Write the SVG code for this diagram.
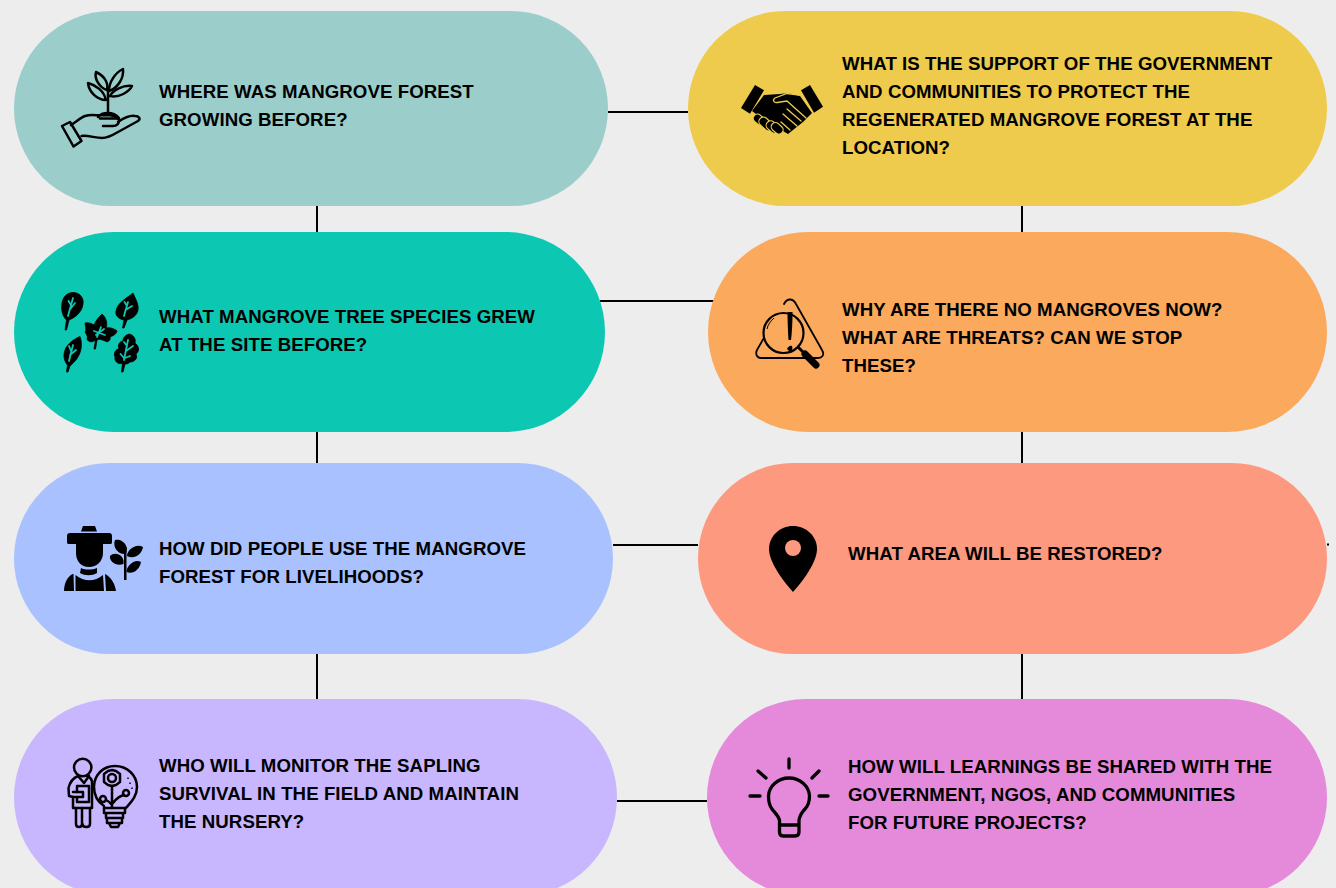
<svg xmlns="http://www.w3.org/2000/svg" width="1336" height="888" viewBox="0 0 1336 888">
<style>
.t{font-family:"Liberation Sans",Arial,sans-serif;font-weight:700;font-size:18.670px;letter-spacing:.07px;fill:#000}
.c{stroke:#000;stroke-width:2;fill:none}
.o{fill:none;stroke:#000;stroke-width:2.500;stroke-linecap:round;stroke-linejoin:round}
.o3{fill:none;stroke:#000;stroke-width:3.300;stroke-linecap:round;stroke-linejoin:round}
</style>
<rect width="1336" height="888" fill="#ededed"/>
<g id="connectors">
<path class="c" d="M608 112H688M317 206V232M600 301H714M1022 206V232M317 432V463M1022 432V463M613 545H698M1327 544.500H1329M317 654V699M1022 654V699M617 801H707"/>
</g>
<g id="node-1">
<rect x="14" y="11" width="594" height="195" rx="97.500" fill="#9bcecb"/>
<g class="o">
<path d="M62 126L70 122L81.500 141L73.500 146.500Z"/>
<path d="M71 125C76 122 80 118 85 116C91 114 98 116 106 115C112 115 118 117 119 120C119 124 117 126 113 126H103"/>
<path d="M81.500 136C88 135 95 138 102 138C108 138 113 135 118 132L138 121C141 119 139 116 135 116C130 115 124 118 118 122"/>
<path d="M98 117C102 112 113 111 119 118M100 118.500H117"/>
<path d="M108 112V88"/>
<path d="M106 100C97 100 89 92 88 83C96 85 104 91 106 100Z"/>
<path d="M107 90C100 88 94 79 96 72C103 75 109 82 107 90Z"/>
<path d="M109 91C109 82 115 73 123 69C124 78 118 88 109 91Z"/>
<path d="M110 96C113 90 123 85 132 86C129 92 119 98 110 96Z"/>
</g>
</g>
<text class="t"><tspan x="159" y="98">WHERE WAS MANGROVE FOREST</tspan><tspan x="159" y="126">GROWING BEFORE?</tspan></text>
<g id="node-2">
<rect x="14" y="232" width="591" height="200" rx="100" fill="#0cc8b2"/>
<g fill="#000" stroke="#000" stroke-width=".8">
<path d="M73 292.500C80 292.500 84 298 83 304C82 313 74 318 69 320L66.500 330H65L66.500 320C62 316 61 309 62 303C63 297 67 292.500 73 292.500Z"/>
<path d="M133 293C135 298 139 304 138 310C137 316 131 319 127 320L124 328H122.500L124 320C119 319 115 316 116 311C117 303 127 298 133 293Z"/>
<path d="M80 336.500C82 342 82 349 79 355C77 360 72 364 70 366L68 372H66.500L67.500 365C64 361 63 356 65 350C67 344 74 339 80 336.500Z"/>
<path d="M129 334C134 335 136 339 135 343C139 346 140 351 136 354C138 358 135 362 130 362C128 364 126 364 125 364L123 372H121.500L122.500 363C118 365 114 361 115 357C113 353 116 349 119 349C117 345 120 341 123 341C123 337 126 335 129 334Z"/>
<path d="M102 314C106 317 108 324 106 328C110 327 115 329 117 331C116 335 112 336 110 337C111 340 108 343 105 341C100 339 99 339 97 340L95.500 349H94L95.500 340C92 343 88 342 87 339C88 337 87 335 85 332C87 330 85 326 85 323C89 322 92 324 94 325C96 320 99 317 102 314Z"/>
</g>
<g stroke="#0cc8b2" stroke-width="1.800" fill="none" stroke-linecap="round">
<path d="M68 316L73 298M69.500 310L75 303M71 305L68.500 301"/>
<path d="M124 316L128 302M125.500 310L132 306M127 306L124.500 302"/>
<path d="M69 361L73 345M70 355L76 350M71 351L69 346"/>
<path d="M124 360L128 340M126 351L133 346M127 346L124 342M124 358L120.500 354M125 358L130 356"/>
<path d="M97 337L101 327M94 331L105 335M96 335L104 329"/>
</g>
</g>
<text class="t"><tspan x="159" y="323">WHAT MANGROVE TREE SPECIES GREW</tspan><tspan x="159" y="351">AT THE SITE BEFORE?</tspan></text>
<g id="node-3">
<rect x="14" y="463" width="599" height="191" rx="95.500" fill="#a9c1ff"/>
<g fill="#000">
<path d="M83 526H95L97 531.500H81Z"/>
<path d="M70 533H109C111 533 112 534 112 536V542C112 544 111 544 110 544H103V553C103 561 97 567 89 567C81 567 76 561 76 553V544H69C67 544 67 543 67 542V536C67 534 68 533 70 533Z"/>
<path d="M81 568C85 570 92 570 97 568V573C92 576 85 576 80 573Z"/>
<path d="M72.500 574H73.500L74 591H64C64 584 67 577 72.500 574Z"/>
<path d="M105 574C111 577 115 584 116 591H106Z"/>
<path d="M75.500 575C84 582 95 582 103 575L104 591H75.500Z"/>
<rect x="124" y="547" width="2.500" height="33"/>
<path d="M125.500 554C119 555 112 548 115 540C122 538 130 546 125.500 554Z"/>
<path d="M127 556C127 550 136 543 143 547C142 554 134 560 127 556Z"/>
<path d="M123.500 564C116 567 109 561 110 556C115 551 125 555 123.500 564Z"/>
<path d="M126.500 572C126 566 135 558 141 562C140 569 133 575 126.500 572Z"/>
</g>
</g>
<text class="t"><tspan x="159" y="555">HOW DID PEOPLE USE THE MANGROVE</tspan><tspan x="159" y="583">FOREST FOR LIVELIHOODS?</tspan></text>
<g id="node-4">
<rect x="14" y="699" width="603" height="197" rx="98.500" fill="#c8b6ff"/>
<g class="o">
<circle cx="82.700" cy="767.500" r="8.700"/>
<path d="M78 776L84 783L89 776"/>
<path d="M78 776C73 778 70 782 68.500 788L69 796L73 797L73 808H92V781C91 778 90 777 87 776"/>
<path d="M77 792V786H89V802H77V798"/>
<path d="M73 792H83V797H73"/>
<path d="M76 808V824C76 828 82 828 82 824V808M82.500 824C82.500 828 90 828 90 824V808"/>
<path d="M104 806C98 802 94 795 94 787C94 775 103 766 115 766C127 766 137 775 137 787C137 797 130 803 126 808H104"/>
<path d="M104 808V813H125V808M106 813V818H123V813M107 818V823H122V818M109 823L111 827H118L120 823"/>
<circle cx="112" cy="778" r="4"/>
<path d="M112 770L116 771L120 774L120 778L120 782L116 785L112 786L108 785L104 782L104 778L104 774L108 771Z"/>
<path d="M112 786V808M113 803C116 799 119 796 124 795M111 804C110 802 108 801 106 800"/>
<circle cx="103" cy="799" r="3"/>
<circle cx="126" cy="793" r="3"/>
</g>
<path d="M128 777.500v1.500M130 782.500v1.500M132 787.500v1.500" stroke="#000" stroke-width="1.500"/>
</g>
<text class="t"><tspan x="159" y="772">WHO WILL MONITOR THE SAPLING</tspan><tspan x="159" y="800">SURVIVAL IN THE FIELD AND MAINTAIN</tspan><tspan x="159" y="828">THE NURSERY?</tspan></text>
<g id="node-5">
<rect x="688" y="11" width="639" height="195" rx="97.500" fill="#eecb4c"/>
<path d="M755 85L764 90.300L750 113.700L741 108Z" fill="#000"/>
<path d="M810 85L823 106.700L814 112.700L801 90.300Z" fill="#000"/>
<path d="M764 95L780 94L789 93L800 96L812 113L803 122L788 134L764 120L752 111Z" fill="#000"/>
<g stroke="#eecb4c" stroke-width="1.300" fill="none" stroke-linecap="round">
<path d="M799 95L787 93.500L775 98C772 100 774 103 777 102.500L787 101L806 118"/>
<path d="M787 109L801 121M783 114L797 126M781 122L790 130"/>
</g>
<g fill="#000" stroke="#eecb4c" stroke-width="1.200">
<rect x="755" y="113.500" width="8.500" height="13" rx="4.200" transform="rotate(-48 759 120)"/>
<rect x="761.500" y="116" width="9" height="16" rx="4.500" transform="rotate(-48 766 124)"/>
<rect x="768" y="120" width="9" height="14" rx="4.500" transform="rotate(-48 772.500 127)"/>
<rect x="773" y="122" width="8.500" height="13" rx="4.200" transform="rotate(-48 777 128.500)"/>
</g>
</g>
<text class="t"><tspan x="842" y="70">WHAT IS THE SUPPORT OF THE GOVERNMENT</tspan><tspan x="842" y="98">AND COMMUNITIES TO PROTECT THE</tspan><tspan x="842" y="126">REGENERATED MANGROVE FOREST AT THE</tspan><tspan x="842" y="154">LOCATION?</tspan></text>
<g id="node-6">
<rect x="708" y="232" width="619" height="200" rx="100" fill="#fba95c"/>
<path d="M784 304C787 298 793 298 796 304L822 350C825 355 822 358 818 358H761C757 358 755 354 757 350L765 336" fill="none" stroke="#000" stroke-width="1.800" stroke-linecap="round"/>
<circle cx="783.500" cy="333" r="20" fill="#fba95c" stroke="#000" stroke-width="2.200"/>
<path d="M787.500 312L792.500 312C792.500 322 792 332 791 340H788.500C788 332 787.500 322 787.500 312Z" fill="#000"/>
<path d="M787 349C788 347 790 345 792 346C793 348 792 351 790 352Z" fill="#000"/>
<path d="M798 347L806 355" stroke="#000" stroke-width="3"/>
<path d="M805 354L816 365" stroke="#000" stroke-width="7" stroke-linecap="round"/>
<path d="M767 329C768 324 771 321 774 318" fill="none" stroke="#000" stroke-width="1"/>
</g>
<text class="t"><tspan x="842" y="316">WHY ARE THERE NO MANGROVES NOW?</tspan><tspan x="842" y="344">WHAT ARE THREATS? CAN WE STOP</tspan><tspan x="842" y="372">THESE?</tspan></text>
<g id="node-7">
<rect x="698" y="463" width="629" height="191" rx="95.500" fill="#fd997f"/>
<path d="M793 526C806 526 817 536 817 549C817 562 803 581 793 592C783 581 769 562 769 549C769 536 780 526 793 526Z" fill="#000"/>
<circle cx="793" cy="548" r="8" fill="#fd997f"/>
</g>
<text class="t" x="848" y="560">WHAT AREA WILL BE RESTORED?</text>
<g id="node-8">
<rect x="707" y="699" width="620" height="197" rx="98.500" fill="#e589da"/>
<g class="o3">
<path d="M789 759V768M758 771L766 778M819 771L812 778M750 796H760M819 796H828"/>
<path d="M779.500 825V820C778 815 774 812 772 809C769 805 768.500 800 768.500 796C769 786 778 778 789 778C800 778 809 786 809.500 796C809.500 801 808 806 805 809C802 812 800 815 799 820V832C799 835 797 836 795 836H783C781 836 779.500 835 779.500 832V825H799"/>
</g>
</g>
<text class="t"><tspan x="848" y="773">HOW WILL LEARNINGS BE SHARED WITH THE</tspan><tspan x="848" y="801">GOVERNMENT, NGOS, AND COMMUNITIES</tspan><tspan x="848" y="829">FOR FUTURE PROJECTS?</tspan></text>
</svg>
